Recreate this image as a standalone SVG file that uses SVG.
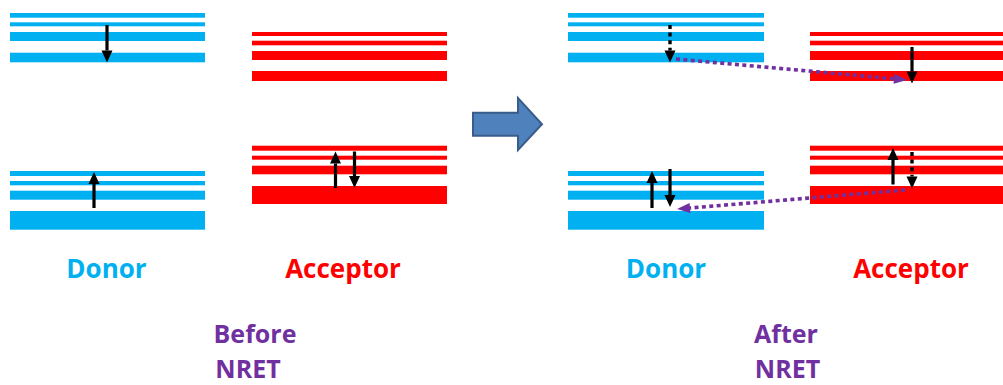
<svg xmlns="http://www.w3.org/2000/svg" width="1003" height="385" viewBox="0 0 1003 385">
  <defs>
    <style>
      .donor { fill: #00b0f0; }
      .acceptor { fill: #ff0000; }
      .spin { stroke: #000; stroke-width: 3.2; fill: none; }
      .spin-dotted { stroke: #000; stroke-width: 3.4; fill: none; stroke-dasharray: 4 3.6; }
      .transfer { stroke: #7030a0; stroke-width: 3.6; fill: none; stroke-dasharray: 4 3.4; }
      .label { font-family: "Open Sans", "Liberation Sans", sans-serif; font-weight: bold; font-size: 26px; text-anchor: middle; }
      .label-donor { fill: #00b0f0; }
      .label-acceptor { fill: #ff0000; }
      .label-stage { fill: #7030a0; font-size: 25px; }
    </style>
    <marker id="head-black" markerUnits="userSpaceOnUse" markerWidth="14" markerHeight="12" refX="0" refY="5.5" orient="auto" overflow="visible">
      <path d="M0,0 L12,5.5 L0,11 z" fill="#000"/>
    </marker>
    <marker id="head-purple" markerUnits="userSpaceOnUse" markerWidth="14" markerHeight="11" refX="0" refY="5" orient="auto" overflow="visible">
      <path d="M0,0 L13,5 L0,10 z" fill="#7030a0"/>
    </marker>
  </defs>

  <!-- Before: donor levels -->
  <g id="donor-before">
    <rect class="donor" x="10" y="13" width="195" height="4.7"/>
    <rect class="donor" x="10" y="22.3" width="195" height="4"/>
    <rect class="donor" x="10" y="32" width="195" height="9"/>
    <rect class="donor" x="10" y="52.7" width="195" height="9.6"/>
    <rect class="donor" x="10" y="171" width="195" height="5"/>
    <rect class="donor" x="10" y="181" width="195" height="4.3"/>
    <rect class="donor" x="10" y="190.7" width="195" height="9"/>
    <rect class="donor" x="10" y="211" width="195" height="18.7"/>
  </g>

  <!-- Before: acceptor levels -->
  <g id="acceptor-before">
    <rect class="acceptor" x="252" y="32" width="195" height="4"/>
    <rect class="acceptor" x="252" y="40.7" width="195" height="4.6"/>
    <rect class="acceptor" x="252" y="51" width="195" height="9"/>
    <rect class="acceptor" x="252" y="71" width="195" height="10"/>
    <rect class="acceptor" x="252" y="145.7" width="195" height="5"/>
    <rect class="acceptor" x="252" y="155.7" width="195" height="4"/>
    <rect class="acceptor" x="252" y="165.7" width="195" height="8.6"/>
    <rect class="acceptor" x="252" y="186" width="195" height="18"/>
  </g>

  <!-- After: donor levels -->
  <g id="donor-after">
    <rect class="donor" x="568" y="13" width="196" height="4.7"/>
    <rect class="donor" x="568" y="22.3" width="196" height="4"/>
    <rect class="donor" x="568" y="32" width="196" height="9"/>
    <rect class="donor" x="568" y="52.7" width="196" height="9.6"/>
    <rect class="donor" x="568" y="171" width="196" height="5"/>
    <rect class="donor" x="568" y="181" width="196" height="4.3"/>
    <rect class="donor" x="568" y="190.7" width="196" height="9"/>
    <rect class="donor" x="568" y="211" width="196" height="18.7"/>
  </g>

  <!-- After: acceptor levels -->
  <g id="acceptor-after">
    <rect class="acceptor" x="810" y="32" width="195" height="4"/>
    <rect class="acceptor" x="810" y="40.7" width="195" height="4.6"/>
    <rect class="acceptor" x="810" y="51" width="195" height="9"/>
    <rect class="acceptor" x="810" y="71" width="195" height="10"/>
    <rect class="acceptor" x="810" y="145.7" width="195" height="5"/>
    <rect class="acceptor" x="810" y="155.7" width="195" height="4"/>
    <rect class="acceptor" x="810" y="165.7" width="195" height="8.6"/>
    <rect class="acceptor" x="810" y="186" width="195" height="18"/>
  </g>

  <!-- Block arrow between the two states -->
  <g id="transition-arrow">
    <polygon points="473,112.7 518,112.7 518,98 542,124.3 518,150 518,135.7 473,135.7" fill="#4f81bd" stroke="#385d8a" stroke-width="2" stroke-linejoin="miter"/>
  </g>

  <!-- Spin arrows and energy-transfer paths -->
  <g id="connectors">
    <line class="spin" x1="107" y1="25" x2="107" y2="50.5" marker-end="url(#head-black)"/>
    <line class="spin" x1="94" y1="208" x2="94" y2="184" marker-end="url(#head-black)"/>
    <line class="spin" x1="335.5" y1="188" x2="335.5" y2="163.5" marker-end="url(#head-black)"/>
    <line class="spin" x1="354.5" y1="151.5" x2="354.5" y2="176" marker-end="url(#head-black)"/>

    <line class="spin-dotted" x1="670" y1="25" x2="670" y2="50.5" marker-end="url(#head-black)"/>
    <line class="spin" x1="912" y1="47" x2="912" y2="71.5" marker-end="url(#head-black)"/>
    <line class="spin" x1="652" y1="208" x2="652" y2="183" marker-end="url(#head-black)"/>
    <line class="spin" x1="670" y1="169" x2="670" y2="195" marker-end="url(#head-black)"/>
    <line class="spin" x1="893" y1="184.5" x2="893" y2="160" marker-end="url(#head-black)"/>
    <line class="spin-dotted" x1="912" y1="152" x2="912" y2="176.5" marker-end="url(#head-black)"/>

    <line class="transfer" x1="676" y1="59" x2="894" y2="78.8" marker-end="url(#head-purple)"/>
    <line class="transfer" x1="905" y1="190" x2="690" y2="208" marker-end="url(#head-purple)"/>
  </g>

  <!-- Labels -->
  <g id="labels">
    <text class="label label-donor" x="106.5" y="278">Donor</text>
    <text class="label label-acceptor" x="343" y="278">Acceptor</text>
    <text class="label label-donor" x="666" y="278">Donor</text>
    <text class="label label-acceptor" x="911" y="278">Acceptor</text>
    <text class="label label-stage" x="255" y="343">Before</text>
    <text class="label label-stage" x="248" y="378">NRET</text>
    <text class="label label-stage" x="786" y="343">After</text>
    <text class="label label-stage" x="787.5" y="378">NRET</text>
  </g>
</svg>
